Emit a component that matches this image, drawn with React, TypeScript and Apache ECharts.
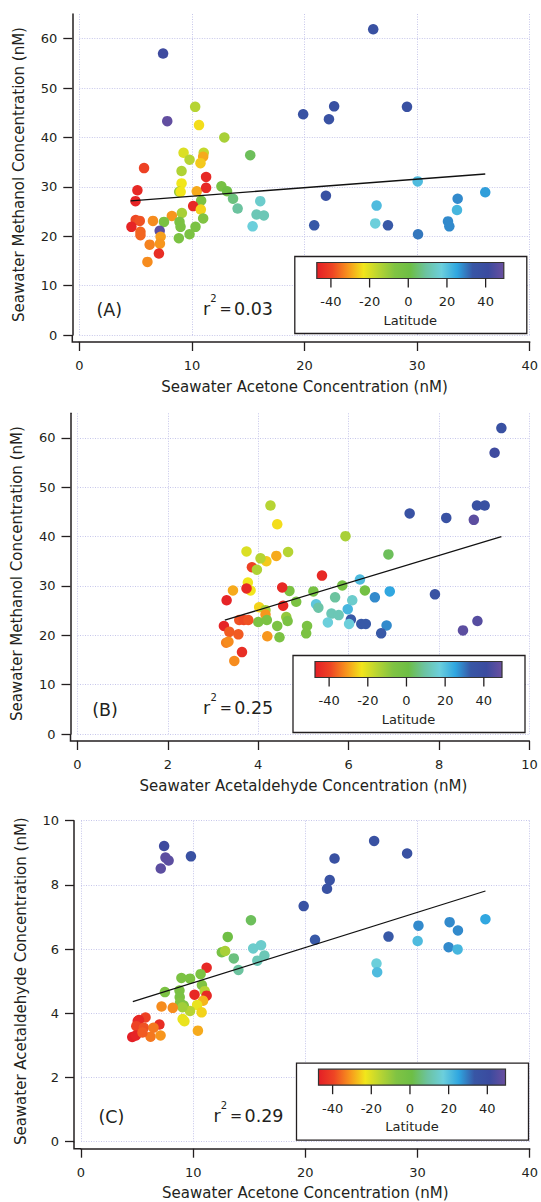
import React, { useEffect, useRef } from "react";
import * as echarts from "echarts";

// ---------- Data: [x, y, latitude] ----------
// Panel A: acetone (x) vs methanol (y)
const panelAPoints: number[][] = [
  [7.44, 57.0, 42], [7.81, 43.3, 48], [10.29, 46.2, -15], [10.63, 42.5, -24], [12.88, 40.0, -13],
  [9.26, 36.9, -20], [9.79, 35.5, -15], [11.05, 36.9, -17], [11.0, 36.1, -29], [10.76, 34.8, -26],
  [5.75, 33.8, -40], [9.08, 33.2, -14], [11.26, 32.0, -45], [15.18, 36.4, 3], [5.16, 29.3, -45],
  [4.99, 27.1, -46], [9.08, 30.7, -23], [8.87, 29.0, -10], [9.0, 29.0, -23], [10.43, 29.1, -29],
  [11.26, 29.8, -45], [12.62, 30.1, -3], [13.12, 29.1, 0], [13.65, 27.6, 6], [14.06, 25.6, 9],
  [10.82, 27.2, -5], [10.11, 26.1, -45], [10.79, 25.4, -25], [16.07, 27.1, 15], [15.74, 24.4, 12],
  [16.39, 24.2, 12], [15.39, 22.0, 17], [9.11, 24.7, -13], [8.22, 24.1, -31], [11.0, 23.6, -7],
  [5.01, 23.3, -39], [5.37, 23.1, -38], [6.54, 23.1, -32], [7.52, 22.9, -5], [4.63, 21.9, -46],
  [8.9, 22.9, -5], [8.99, 21.9, -5], [10.32, 21.9, -5], [7.14, 21.1, 47], [5.43, 20.9, -36],
  [5.43, 20.2, -36], [7.22, 19.9, -30], [8.84, 19.6, -5], [9.79, 20.4, -5], [6.25, 18.3, -33],
  [7.16, 18.5, -31], [7.07, 16.5, -44], [6.05, 14.8, -32],
  [19.88, 44.7, 36], [22.17, 43.7, 36], [22.63, 46.3, 37], [26.1, 61.9, 37], [29.1, 46.2, 37],
  [21.9, 28.2, 36], [20.86, 22.2, 33], [26.4, 26.2, 21], [26.28, 22.6, 17], [27.41, 22.2, 33],
  [30.05, 31.1, 21], [30.08, 20.4, 30], [32.74, 23.0, 28], [32.86, 22.0, 28], [33.6, 27.6, 28],
  [33.54, 25.3, 22], [36.05, 28.9, 26],
];

// Panel B: acetaldehyde (x) vs methanol (y)
const panelBPoints: number[][] = [
  [9.38, 62.0, 37], [9.23, 57.0, 42], [8.84, 46.3, 37], [9.01, 46.3, 37], [8.77, 43.4, 47],
  [7.35, 44.7, 36], [8.16, 43.8, 36], [7.91, 28.3, 36], [8.53, 21.0, 47], [8.85, 22.9, 46],
  [6.91, 28.9, 25], [6.88, 36.4, 3], [5.93, 40.1, -13], [6.25, 31.3, 21], [6.36, 29.1, -2],
  [6.58, 27.7, 28], [5.86, 30.1, -3], [6.08, 27.1, 15], [5.98, 25.3, 22], [6.05, 23.2, 33],
  [6.28, 22.3, 33], [6.38, 22.3, 33], [6.01, 22.3, 17], [6.84, 22.0, 28], [6.72, 20.4, 33],
  [5.7, 27.7, 9], [5.62, 24.4, 12], [5.78, 24.1, 12], [5.54, 22.6, 17], [5.28, 26.3, 19],
  [5.33, 25.6, 10], [5.41, 32.1, -45], [5.22, 28.9, -3], [4.84, 26.8, -5], [5.08, 21.9, -5],
  [5.06, 20.4, -5], [4.69, 29.0, -5], [4.53, 29.7, -45], [4.55, 26.0, -45], [4.62, 23.7, -10],
  [4.65, 22.9, -5], [4.42, 21.9, -5], [4.47, 19.6, -5], [4.66, 36.9, -15], [4.27, 46.3, -15],
  [4.42, 42.5, -24], [4.4, 36.1, -29], [4.18, 35.0, -26], [4.05, 35.6, -15], [3.74, 37.0, -20],
  [3.86, 33.8, -40], [3.97, 33.3, -14], [3.77, 30.7, -23], [3.83, 29.1, -23], [3.74, 29.5, -45],
  [3.44, 29.1, -29], [3.3, 27.1, -46], [4.02, 25.7, -25], [4.16, 25.1, -13], [4.16, 24.2, -31],
  [4.0, 22.7, -5], [4.19, 23.1, -5], [3.24, 21.9, -46], [3.58, 23.1, -38], [3.68, 23.1, -39],
  [3.78, 23.1, -38], [3.36, 20.7, -37], [3.56, 20.2, -37], [4.2, 19.8, -31], [3.29, 18.5, -33],
  [3.34, 18.7, -32], [3.64, 16.6, -44], [3.47, 14.8, -32],
];

// Panel C: acetone (x) vs acetaldehyde (y)
const panelCPoints: number[][] = [
  [7.41, 9.21, 42], [7.53, 8.85, 47], [7.81, 8.76, 47], [7.11, 8.51, 47], [9.8, 8.89, 37],
  [26.13, 9.37, 37], [29.07, 8.98, 37], [22.6, 8.82, 37], [22.17, 8.15, 36], [21.93, 7.88, 36],
  [19.85, 7.34, 36], [20.86, 6.29, 33], [27.41, 6.39, 33], [30.08, 6.73, 28], [30.01, 6.25, 21],
  [32.86, 6.84, 28], [33.6, 6.58, 28], [32.77, 6.06, 28], [33.57, 5.99, 22], [36.05, 6.93, 25],
  [26.34, 5.55, 17], [26.4, 5.28, 21], [15.15, 6.9, 3], [13.08, 6.38, 0], [12.55, 5.9, -3],
  [12.85, 5.94, -13], [13.62, 5.71, 6], [14.03, 5.35, 9], [15.35, 6.02, 15], [16.05, 6.12, 15],
  [16.35, 5.8, 12], [15.72, 5.64, 12], [11.2, 5.42, -45], [10.66, 5.22, -5], [8.95, 5.1, -5],
  [9.72, 5.08, -5], [7.48, 4.66, -5], [8.78, 4.71, -5], [10.78, 4.88, -7], [11.03, 4.69, -15],
  [10.12, 4.58, -45], [11.2, 4.55, -45], [10.88, 4.39, -28], [8.8, 4.5, -5], [8.83, 4.33, -7],
  [9.16, 4.24, -7], [10.35, 4.26, -22], [10.75, 4.03, -25], [9.72, 4.07, -15], [9.04, 4.19, -12],
  [9.06, 3.82, -22], [9.22, 3.75, -22], [8.18, 4.17, -32], [7.18, 4.21, -32], [10.42, 3.46, -29],
  [5.75, 3.87, -40], [5.06, 3.76, -46], [5.17, 3.79, -45], [4.93, 3.6, -40], [5.6, 3.55, -38],
  [6.99, 3.65, -44], [6.46, 3.55, -34], [6.2, 3.27, -34], [7.09, 3.31, -31], [4.57, 3.26, -47],
  [4.9, 3.31, -46], [5.48, 3.4, -37],
];

// Regression lines (endpoints)
const fitA = [[4.56, 27.16], [36.05, 32.6]];
const fitB = [[3.26, 23.06], [9.38, 40.0]];
const fitC = [[4.62, 4.36], [36.05, 7.81]];

const r2Labels = ["0.03", "0.25", "0.29"];
const panelLabels = ["(A)", "(B)", "(C)"];
const xNames = [
  "Seawater Acetone Concentration (nM)",
  "Seawater Acetaldehyde Concentration (nM)",
  "Seawater Acetone Concentration (nM)",
];
const yNames = [
  "Seawater Methanol Concentration (nM)",
  "Seawater Methanol Concentration (nM)",
  "Seawater Acetaldehyde Concentration (nM)",
];
const methanolTicks = [0, 10, 20, 30, 40, 50, 60];
const latitudeTicks = [-40, -20, 0, 20, 40];
const latMin = -47.3;
const latMax = 49.4;
const latitudeColors = [
  "#e41e26", "#ee4524", "#f7941d", "#f2e61b", "#b6d433", "#80c343", "#6dbe45",
  "#6cc3a0", "#6ccfdc", "#2fa6e0", "#3856a5", "#3b4b9f", "#6a4fa0",
];

// ---------- Layout ----------
const grids = [
  { left: 79.3, top: 14, width: 452.2, height: 321 },
  { left: 77.5, top: 413.3, width: 451.9, height: 320.7 },
  { left: 81, top: 820.7, width: 451.9, height: 321 },
];
const rStartOffsets = [123.6, 125.6, 132.4];
const labelOffsets = [29.9, 27.5, 30.4];
const labelLift = [25.3, 24.5, 24.5];

const FONT = "DejaVu Sans";
const INK = "#231f20";
const GRIDC = "#c6c6ea";

export default function App() {
  const ref = useRef<HTMLDivElement>(null);
  useEffect(() => {
    if (!ref.current) return;
    const chart = echarts.init(ref.current, undefined, { renderer: "svg" });

    const tickLabel = { color: INK, fontSize: 13, fontFamily: FONT };
    const axisCommon = (gi: number) => ({
      gridIndex: gi,
      type: "value" as const,
      offset: 7,
      axisLine: { show: true, onZero: false, lineStyle: { color: INK, width: 1.5 } },
      axisTick: { show: true, inside: false, length: 9, lineStyle: { color: INK, width: 1.3 } },
      splitLine: { show: true, lineStyle: { color: GRIDC, type: [1, 1.5], width: 1 } },
      nameLocation: "middle" as const,
      nameTextStyle: { color: INK, fontSize: 15, fontFamily: FONT },
    });

    const xAxis = [
      { ...axisCommon(0), min: 0, max: 40, interval: 10, name: xNames[0], nameGap: 37, axisLabel: { ...tickLabel, margin: 17 } },
      { ...axisCommon(1), min: 0, max: 10, interval: 2, name: xNames[1], nameGap: 37, axisLabel: { ...tickLabel, margin: 17 } },
      { ...axisCommon(2), min: 0, max: 40, interval: 10, name: xNames[2], nameGap: 37, axisLabel: { ...tickLabel, margin: 17 } },
    ];
    const yAxis = [
      {
        ...axisCommon(0), min: 0, max: 65, name: yNames[0], nameGap: 46,
        axisLabel: { ...tickLabel, margin: 15, customValues: methanolTicks },
        axisTick: { show: true, length: 9, lineStyle: { color: INK, width: 1.3 }, customValues: methanolTicks },
      },
      {
        ...axisCommon(1), min: 0, max: 65, name: yNames[1], nameGap: 46,
        axisLabel: { ...tickLabel, margin: 15, customValues: methanolTicks },
        axisTick: { show: true, length: 9, lineStyle: { color: INK, width: 1.3 }, customValues: methanolTicks },
      },
      {
        ...axisCommon(2), min: 0, max: 10, interval: 2, name: yNames[2], nameGap: 46,
        axisLabel: { ...tickLabel, margin: 15 },
      },
    ];

    const pointSets = [panelAPoints, panelBPoints, panelCPoints];
    const fits = [fitA, fitB, fitC];
    const series: any[] = [];
    pointSets.forEach((pts, i) => {
      series.push({
        type: "scatter",
        xAxisIndex: i,
        yAxisIndex: i,
        data: pts,
        symbol: "circle",
        symbolSize: 10.5,
        itemStyle: { opacity: 1 },
        z: 3,
      });
      series.push({
        type: "line",
        xAxisIndex: i,
        yAxisIndex: i,
        data: fits[i],
        showSymbol: false,
        symbol: "none",
        lineStyle: { color: "#111", width: 1.3 },
        z: 4,
      });
    });

    const graphic: any[] = [];
    const gradStops = latitudeColors.map((c, k) => ({ offset: k / (latitudeColors.length - 1), color: c }));
    const txt = (x: number, y: number, text: string, size: number, align: string) => ({
      type: "text",
      x,
      y,
      style: {
        text,
        fill: INK,
        font: `${size}px '${FONT}'`,
        textAlign: align,
        textVerticalAlign: "middle",
      },
      z: 21,
    });
    grids.forEach((g, i) => {
      const bottom = g.top + g.height;
      const left = g.left;
      // axis corner join
      graphic.push({
        type: "polyline",
        shape: { points: [[left - 7, bottom], [left - 7, bottom + 7], [left, bottom + 7]] },
        style: { stroke: INK, lineWidth: 1.5, fill: null },
        z: 10,
      });
      // legend box
      const boxX = left + 215.5;
      const boxW = 232;
      const boxH = 77;
      const boxY = bottom - 1.5 - boxH;
      graphic.push({
        type: "rect",
        shape: { x: boxX, y: boxY, width: boxW, height: boxH },
        style: { fill: "#fff", stroke: INK, lineWidth: 1.3 },
        z: 20,
      });
      const barX = boxX + 22;
      const barY = boxY + 6;
      const barW = 187;
      const barH = 16;
      graphic.push({
        type: "rect",
        shape: { x: barX, y: barY, width: barW, height: barH },
        style: {
          fill: new echarts.graphic.LinearGradient(0, 0, 1, 0, gradStops),
          stroke: "#333",
          lineWidth: 1.2,
        },
        z: 21,
      });
      latitudeTicks.forEach((lat) => {
        const tx = barX + ((lat - latMin) / (latMax - latMin)) * barW;
        graphic.push({
          type: "line",
          shape: { x1: tx, y1: barY + barH, x2: tx, y2: barY + barH + 9 },
          style: { stroke: INK, lineWidth: 1.3 },
          z: 21,
        });
        graphic.push(txt(tx, barY + 39, String(lat), 13, "center"));
      });
      graphic.push(txt(barX + barW / 2, barY + 57.6, "Latitude", 13, "center"));
      // panel label
      graphic.push(txt(left + labelOffsets[i], bottom - labelLift[i], panelLabels[i], 17.5, "center"));
      // r^2
      const rx = left + rStartOffsets[i];
      const ry = bottom - labelLift[i] - 1.2;
      graphic.push(txt(rx, ry, "r", 17.5, "left"));
      graphic.push(txt(rx + 7.3, ry - 10.5, "2", 10, "left"));
      graphic.push({
        type: "text",
        x: rx + 16.6,
        y: ry,
        style: {
          text: "{e|=}{n|" + r2Labels[i] + "}",
          fill: INK,
          font: `17.5px '${FONT}'`,
          textAlign: "left",
          textVerticalAlign: "middle",
          rich: {
            e: { width: 14.5, fontSize: 14.5, fontFamily: FONT, fill: INK, verticalAlign: "middle" },
            n: { fontSize: 17.5, fontFamily: FONT, fill: INK, verticalAlign: "middle" },
          },
        },
        z: 21,
      });
    });

    chart.setOption({
      animation: false,
      backgroundColor: "#fff",
      textStyle: { fontFamily: FONT },
      grid: grids.map((g) => ({ ...g, containLabel: false })),
      xAxis,
      yAxis,
      visualMap: {
        type: "continuous",
        show: false,
        dimension: 2,
        min: latMin,
        max: latMax,
        seriesIndex: [0, 2, 4],
        inRange: { color: latitudeColors },
      },
      series,
      graphic,
    });

    return () => chart.dispose();
  }, []);

  return (
    <div
      ref={ref}
      style={{ position: "absolute", left: 0, top: 0, width: 541, height: 1202 }}
    />
  );
}
